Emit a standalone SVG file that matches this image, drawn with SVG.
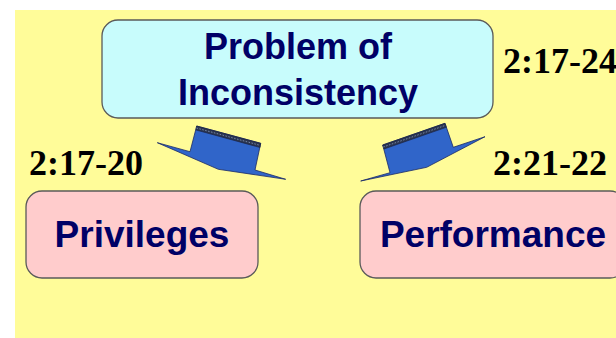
<svg xmlns="http://www.w3.org/2000/svg" width="616" height="338" viewBox="0 0 616 338">
<style>
.box{stroke:#5a5a5a;stroke-width:1.3}
.t{font-family:"Liberation Sans",Arial,sans-serif;font-weight:bold;fill:#000066;text-anchor:middle}
.ref{font-family:"Liberation Serif","Times New Roman",serif;font-weight:bold;font-size:36px;fill:#000}
.arrow{fill:#3065c9;stroke:#1a2a66;stroke-width:0.8;stroke-linejoin:miter}
.band{fill:#2a3550;stroke:#1a2040;stroke-width:0.6}
.hatch{stroke:#8899bb;stroke-width:0.8;stroke-dasharray:1.5 1.5;fill:none}
</style>
<rect x="0" y="0" width="616" height="338" fill="#ffffff"/>
<rect x="15" y="10" width="601" height="328" fill="#fffc99"/>
<g id="connectors">
<g id="arrow-left">
<polygon class="arrow" points="196.7,126 260.7,143.3 255,170 285.7,179.3 218.3,169.3 157.3,142.7 190,151.7"/>
<polygon class="band" points="196.7,126 260.7,143.3 260,147.5 196,130"/>
<line class="hatch" x1="196.5" y1="128" x2="260.3" y2="145.4"/>
</g>
<g id="arrow-right">
<polygon class="arrow" points="382.7,145 445,123.3 453.3,147.3 485,136.7 426.7,167.3 360.7,181 390,172.7"/>
<polygon class="band" points="382.7,145 445,123.3 446.3,127.3 384,149"/>
<line class="hatch" x1="383.3" y1="147" x2="445.6" y2="125.3"/>
</g>
</g>
<g id="node-problem">
<rect class="box" x="102" y="20" width="391" height="98" rx="16" ry="16" fill="#c8fcfc"/>
<text class="t" x="298" y="59" font-size="36">Problem of</text>
<text class="t" x="298" y="105" font-size="36">Inconsistency</text>
</g>
<g id="node-privileges">
<rect class="box" x="26" y="191" width="232" height="87" rx="16" ry="16" fill="#ffcccc"/>
<text class="t" x="142" y="247" font-size="37">Privileges</text>
</g>
<g id="node-performance">
<rect class="box" x="360" y="191" width="266" height="87" rx="16" ry="16" fill="#ffcccc"/>
<text class="t" x="493" y="247" font-size="37">Performance</text>
</g>
<g id="labels">
<text class="ref" x="503" y="73">2:17-24</text>
<text class="ref" x="29" y="175">2:17-20</text>
<text class="ref" x="493" y="175">2:21-22</text>
</g>
</svg>
